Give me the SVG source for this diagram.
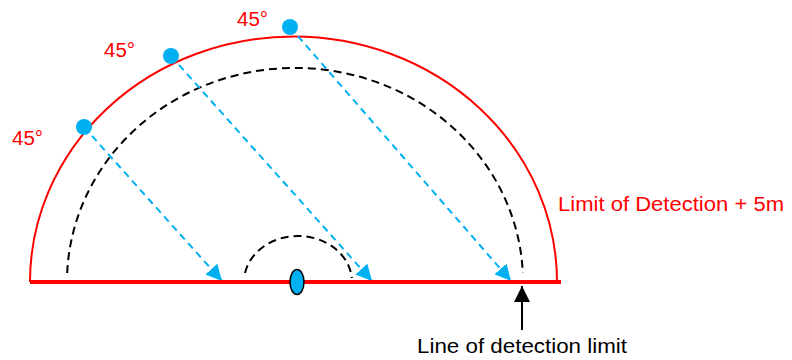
<svg xmlns="http://www.w3.org/2000/svg" width="792" height="360" viewBox="0 0 792 360">
<style>
.red-label{fill:#FF0000;font-family:"Liberation Sans",Arial,sans-serif;font-size:20px}
.blk-label{fill:#000;font-family:"Liberation Sans",Arial,sans-serif;font-size:20px}
.ray{stroke:#00B0F0;stroke-width:2;stroke-dasharray:7 5;fill:none}
.dash{stroke:#000;stroke-width:2;stroke-dasharray:8 5;fill:none}
.dot{fill:#00B0F0}
</style>
<defs>
<marker id="blueHead" markerUnits="userSpaceOnUse" markerWidth="18" markerHeight="16" refX="16" refY="8" orient="auto">
<path d="M0,0 L16,8 L0,16 Z" fill="#00B0F0"/>
</marker>
<marker id="blackHead" markerUnits="userSpaceOnUse" markerWidth="18" markerHeight="18" refX="16" refY="8" orient="auto">
<path d="M0,0 L16,8 L0,16 Z" fill="#000"/>
</marker>
</defs>
<g id="limit-arc">
<path d="M30,282 A263.5,245.5 0 0 1 557,282" fill="none" stroke="#FF0000" stroke-width="2"/>
</g>
<g id="detection-arc">
<path class="dash" d="M67.2,273 A228,214 0 0 1 522.8,273"/>
</g>
<g id="inner-arc">
<path class="dash" d="M245.04,273 A54,46 0 0 1 351.8,278"/>
</g>
<g id="connectors">
<line class="ray" x1="84" y1="127" x2="222" y2="281" marker-end="url(#blueHead)"/>
<line class="ray" x1="171" y1="56" x2="372" y2="281" marker-end="url(#blueHead)"/>
<line class="ray" x1="290" y1="27" x2="511" y2="281" marker-end="url(#blueHead)"/>
<line x1="522" y1="330" x2="522" y2="286" stroke="#000" stroke-width="2" marker-end="url(#blackHead)"/>
</g>
<g id="baseline">
<line x1="30" y1="282" x2="561" y2="282" stroke="#FF0000" stroke-width="4"/>
</g>
<g id="device">
<ellipse cx="297" cy="282" rx="7" ry="12.5" fill="#00B0F0" stroke="#000" stroke-width="1.5"/>
</g>
<g id="source-1">
<circle class="dot" cx="84" cy="127" r="8"/>
<text class="red-label" x="12" y="145" textLength="31" lengthAdjust="spacingAndGlyphs">45°</text>
</g>
<g id="source-2">
<circle class="dot" cx="171" cy="56" r="8"/>
<text class="red-label" x="104" y="57" textLength="31" lengthAdjust="spacingAndGlyphs">45°</text>
</g>
<g id="source-3">
<circle class="dot" cx="290" cy="27" r="8"/>
<text class="red-label" x="237" y="26" textLength="31" lengthAdjust="spacingAndGlyphs">45°</text>
</g>
<g id="limit-label">
<text class="red-label" x="558" y="211" font-size="21" textLength="226" lengthAdjust="spacingAndGlyphs">Limit of Detection + 5m</text>
</g>
<g id="detection-label">
<text class="blk-label" x="417" y="353" textLength="210" lengthAdjust="spacingAndGlyphs">Line of detection limit</text>
</g>
</svg>
